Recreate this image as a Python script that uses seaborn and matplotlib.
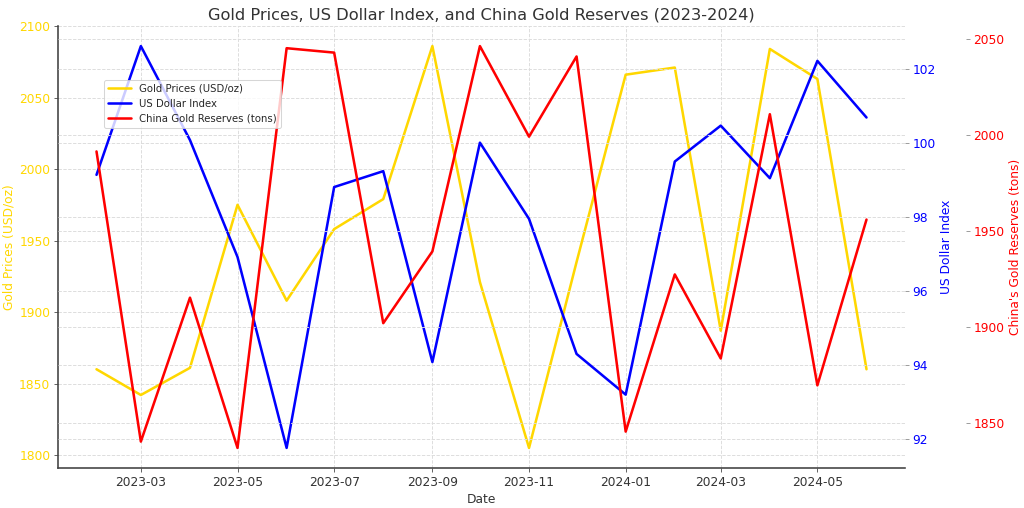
import pandas as pd
import numpy as np
import matplotlib
matplotlib.use('Agg')
import matplotlib.pyplot as plt
import seaborn as sns

dates = pd.date_range('2023-02-01', periods=17, freq='MS')

gold_prices = [1860, 1842, 1861, 1975, 1908, 1958, 1979, 2086, 1921, 1805,
               1935, 2066, 2071, 1887, 2084, 2063, 1860]
usd_index = [99.14, 102.62, 100.08, 96.92, 91.76, 98.81, 99.24, 94.08, 100.01,
             97.95, 94.30, 93.20, 99.50, 100.47, 99.05, 102.22, 100.69]
china_reserves = [1991.5, 1840.3, 1915.3, 1837.0, 2045.3, 2043.0, 1902.0, 1939.4,
                  2046.4, 1999.2, 2041.0, 1845.5, 1927.4, 1883.6, 2010.9, 1869.6, 1956.0]

df = pd.DataFrame({'Date': dates, 'Gold': gold_prices, 'USD': usd_index,
                   'Reserves': china_reserves})

sns.set_style('whitegrid', {'grid.linestyle': '--', 'grid.color': '#d9d9d9',
                            'axes.edgecolor': '#444444', 'xtick.bottom': True,
                            'ytick.left': True})
plt.rcParams['font.family'] = ['DejaVu Sans']

gold_c = '#FFD700'
blue_c = 'blue'
red_c = 'red'

fig = plt.figure(figsize=(14, 508 / (1024 / 14)), dpi=1024 / 14)
ax1 = fig.add_axes([58 / 1024, 1 - 468 / 508, (905 - 58) / 1024, (468 - 26) / 508])

sns.lineplot(data=df, x='Date', y='Gold', ax=ax1, color=gold_c, lw=2.5,
             label='Gold Prices (USD/oz)', legend=False)
ax1.set_ylabel('Gold Prices (USD/oz)', color=gold_c, fontsize=12)
ax1.set_xlabel('Date', color='#333333', fontsize=12)
ax1.tick_params(axis='y', labelcolor=gold_c, labelsize=12, color='#444444', length=4)
ax1.tick_params(axis='x', labelcolor='#333333', labelsize=12, color='#444444', length=4)

ax2 = ax1.twinx()
sns.lineplot(data=df, x='Date', y='USD', ax=ax2, color=blue_c, lw=2.5,
             label='US Dollar Index', legend=False)
ax2.set_ylabel('US Dollar Index', color=blue_c, fontsize=12)
ax2.tick_params(axis='y', labelcolor=blue_c, labelsize=12, color='#888888', length=4)

ax3 = ax1.twinx()
ax3.spines['right'].set_position(('outward', 60))
sns.lineplot(data=df, x='Date', y='Reserves', ax=ax3, color=red_c, lw=2.5,
             label='China Gold Reserves (tons)', legend=False)
ax3.set_ylabel("China's Gold Reserves (tons)", color=red_c, fontsize=12)
ax3.tick_params(axis='y', labelcolor=red_c, labelsize=12, color='#888888', length=4)

for a in (ax1, ax2, ax3):
    a.spines['top'].set_visible(False)
    a.spines['right'].set_visible(False)
    a.grid(True, linestyle='--', color='#dcdcdc', lw=0.9)
for a in (ax2, ax3):
    a.spines['left'].set_visible(False)
    a.spines['bottom'].set_visible(False)
ax1.spines['left'].set_linewidth(1.6)
ax1.spines['bottom'].set_linewidth(1.6)

ax1.set_title('Gold Prices, US Dollar Index, and China Gold Reserves (2023-2024)',
              fontsize=16, color='#333333')

handles = []
labels = []
for a in (ax1, ax2, ax3):
    h, l = a.get_legend_handles_labels()
    handles += h
    labels += l
fig.legend(handles, labels, loc='upper left', bbox_to_anchor=(0.097, 0.853),
           fontsize=10, frameon=True, edgecolor='#cccccc', handlelength=2.2)

fig.savefig('out.png', dpi=1024 / 14)
